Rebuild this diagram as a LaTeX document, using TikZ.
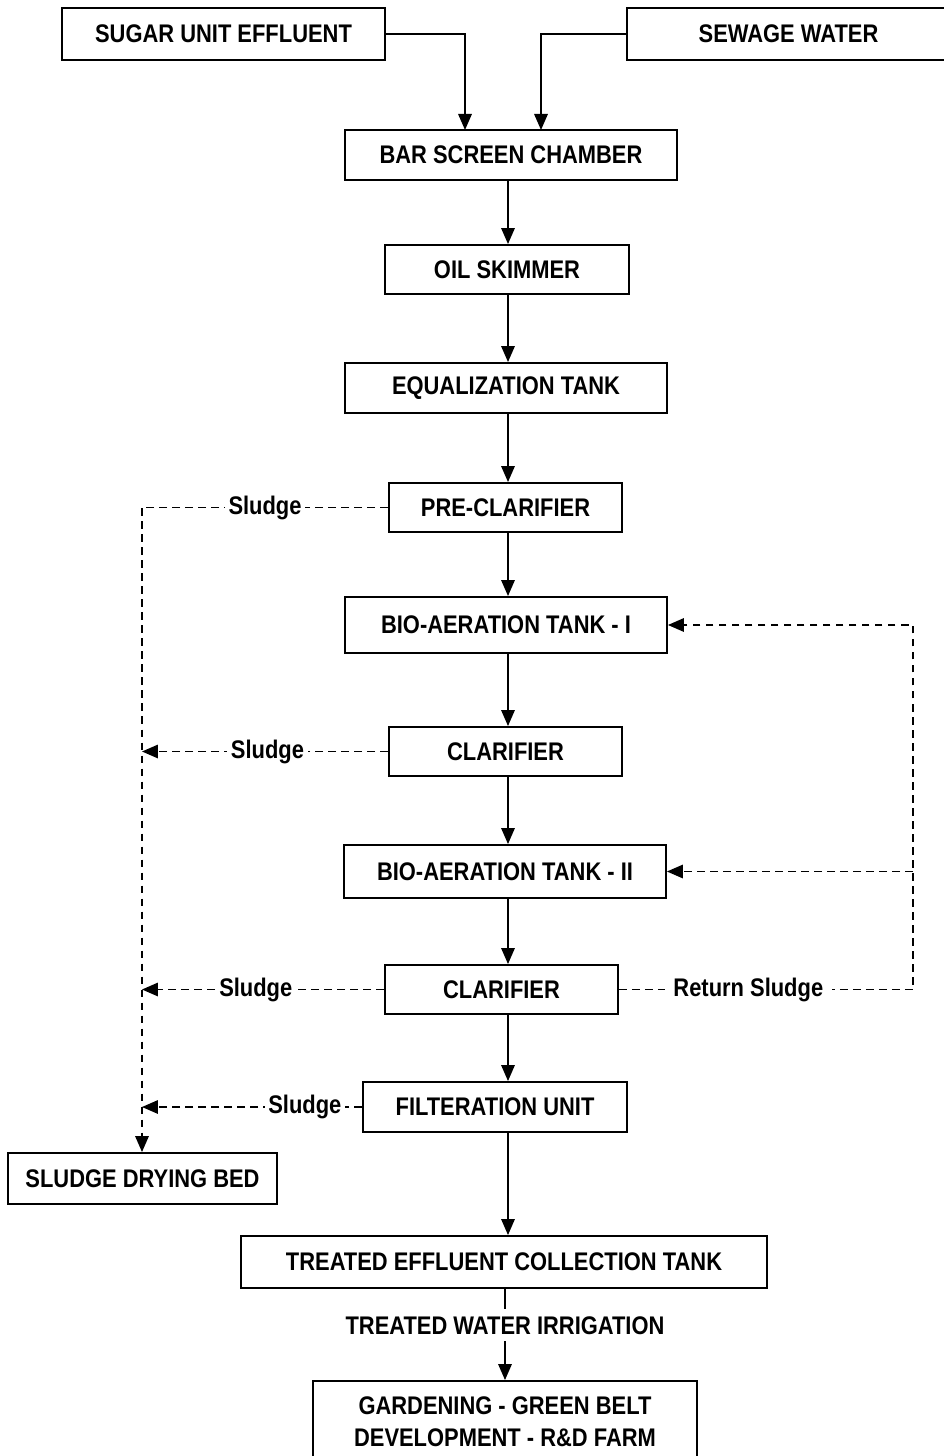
\documentclass[tikz,border=0pt]{standalone}
\usepackage{fontspec}
\newfontfamily\flowfont[FakeStretch=0.86]{Liberation Sans}
\usetikzlibrary{arrows.meta}

\begin{document}
\begin{tikzpicture}[x=0.02cm,y=-0.02cm,
    font=\flowfont\bfseries\fontsize{14.5}{17}\selectfont,
    box/.style={draw,line width=1.1pt,inner sep=2pt,minimum height=1cm},
    flow/.style={line width=0.9pt,-{Triangle[length=0.32cm,width=0.27cm]}},
    sludge/.style={line width=0.9pt,dash pattern=on 4.4pt off 3pt},
    sludgetip/.style={sludge,-{Triangle[length=0.32cm,width=0.27cm]}},
    lbl/.style={fill=white,inner sep=2pt}]
    \useasboundingbox (0,0) rectangle (943,1456);
    % inlets
    \node[box,minimum width=6.46cm,minimum height=1.04cm] (sugar) at (223.5,34) {SUGAR UNIT EFFLUENT};
    \node[box,minimum width=6.46cm,minimum height=1.04cm] (sewage) at (788.5,34) {SEWAGE WATER};
    \node[box,minimum width=6.64cm] (bar) at (511,155) {BAR SCREEN CHAMBER};
    \coordinate (in1) at (465,130); \coordinate (in2) at (541,130);
    \draw[flow] (sugar.east) -| (in1);
    \draw[flow] (sewage.west) -| (in2);
    % main line
    \node[box,minimum width=4.88cm,minimum height=0.98cm] (oil) at (507,269.5) {OIL SKIMMER};
    \node[box,minimum width=6.44cm] (equal) at (506,388) {EQUALIZATION TANK};
    \node[box,minimum width=4.66cm,minimum height=0.98cm] (precl) at (505.5,507.5) {PRE-CLARIFIER};
    \node[box,minimum width=6.44cm,minimum height=1.12cm] (bioa) at (506,625) {BIO-AERATION TANK - I};
    \node[box,minimum width=4.66cm,minimum height=0.98cm] (clara) at (505.5,751.5) {CLARIFIER};
    \node[box,minimum width=6.44cm,minimum height=1.06cm] (biob) at (505,871.5) {BIO-AERATION TANK - II};
    \node[box,minimum width=4.66cm,minimum height=0.98cm] (clarb) at (501.5,989.5) {CLARIFIER};
    \node[box,minimum width=5.28cm] (filt) at (495,1107) {FILTERATION UNIT};
    \node[box,minimum width=5.38cm,minimum height=1.02cm] (sdb) at (142.5,1178.5) {SLUDGE DRYING BED};
    \node[box,minimum width=10.52cm,minimum height=1.04cm] (tect) at (504,1262) {TREATED EFFLUENT COLLECTION TANK};
    \node[box,minimum width=7.68cm,minimum height=1.64cm,align=center] (garden) at (505,1422)
        {GARDENING - GREEN BELT\\[1pt]DEVELOPMENT - R\&D FARM};
    \coordinate (col) at (508,0);
    \draw[flow] (col |- bar.south) -- (col |- oil.north);
    \draw[flow] (col |- oil.south) -- (col |- equal.north);
    \draw[flow] (col |- equal.south) -- (col |- precl.north);
    \draw[flow] (col |- precl.south) -- (col |- bioa.north);
    \draw[flow] (col |- bioa.south) -- (col |- clara.north);
    \draw[flow] (col |- clara.south) -- (col |- biob.north);
    \draw[flow] (col |- biob.south) -- (col |- clarb.north);
    \draw[flow] (col |- clarb.south) -- (col |- filt.north);
    \draw[flow] (col |- filt.south) -- (col |- tect.north);
    \draw[flow] (garden.north |- tect.south) -- node[lbl,inner sep=4pt,pos=0.4] {TREATED WATER IRRIGATION} (garden.north);
    % sludge
    \coordinate (sl0) at (142,507.5);
    \draw[sludgetip] (precl.west) -- node[lbl,pos=0.5] {Sludge} (sl0) -- (sl0 |- sdb.north);
    \draw[sludgetip] (clara.west) -- node[lbl,pos=0.49] {Sludge} (142,751.5);
    \draw[sludgetip] (clarb.west) -- node[lbl,pos=0.53] {Sludge} (142,989.5);
    \draw[sludgetip] (filt.west) -- node[lbl,pos=0.26] {Sludge} (142,1107);
    % return sludge
    \coordinate (rt) at (913,989.5);
    \draw[sludgetip] (clarb.east) -- node[lbl,pos=0.44,inner sep=5pt] {Return Sludge} (rt) |- (bioa.east);
    \draw[sludgetip] (913,871.5) -- (biob.east);
\end{tikzpicture}
\end{document}
